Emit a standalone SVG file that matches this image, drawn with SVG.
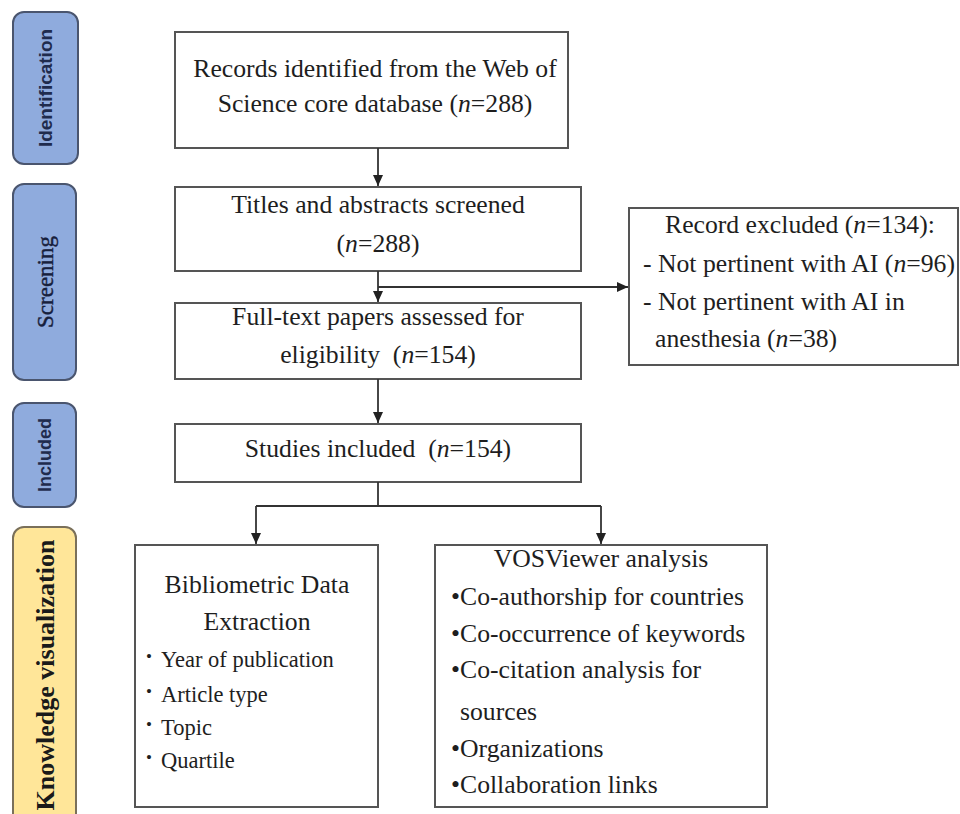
<svg xmlns="http://www.w3.org/2000/svg" width="960" height="814" viewBox="0 0 960 814">
  <defs>
    <marker id="arrow" markerUnits="userSpaceOnUse" markerWidth="12" markerHeight="12" viewBox="0 0 12 12" refX="11" refY="6" orient="auto">
      <path d="M0,1 L11,6 L0,11 Z" fill="#222"/>
    </marker>
    <style>
      .box { fill: #ffffff; stroke: #555555; stroke-width: 2; }
      .stage-blue { fill: #8fabdd; stroke: #4a556e; stroke-width: 2; }
      .stage-yellow { fill: #ffe699; stroke: #7a705a; stroke-width: 2; }
      .t { font-family: "Liberation Serif", "Times New Roman", serif; font-size: 25.7px; fill: #1e1e1e; }
      .ts { font-family: "Liberation Serif", "Times New Roman", serif; font-size: 22.5px; fill: #1e1e1e; }
      .bul { font-family: "Liberation Serif", "Times New Roman", serif; font-size: 17px; fill: #1e1e1e; }
      .c { text-anchor: middle; }
      .i { font-style: italic; }
      .lbl-sans { font-family: "Liberation Sans", Arial, sans-serif; font-weight: bold; fill: #1f2b4d; text-anchor: middle; }
      .lbl-serif { font-family: "Liberation Serif", "Times New Roman", serif; fill: #17203c; text-anchor: middle; }
      .conn { fill: none; stroke: #333333; stroke-width: 1.8; }
    </style>
  </defs>

  <rect width="960" height="814" fill="#ffffff"/>

  <!-- stage labels -->
  <g id="stage-identification">
    <rect class="stage-blue" x="13" y="12" width="65" height="152" rx="11"/>
    <text class="lbl-sans" font-size="19" transform="translate(45.5,88) rotate(-90)" dy="0.35em">Identification</text>
  </g>
  <g id="stage-screening">
    <rect class="stage-blue" x="13" y="184" width="63" height="196" rx="11"/>
    <text class="lbl-serif" font-size="23" stroke="#17203c" stroke-width="0.4" transform="translate(44.5,282) rotate(-90)" dy="0.35em">Screening</text>
  </g>
  <g id="stage-included">
    <rect class="stage-blue" x="13" y="403" width="63" height="104" rx="11"/>
    <text class="lbl-sans" font-size="18" transform="translate(44.5,455) rotate(-90)" dy="0.35em">Included</text>
  </g>
  <g id="stage-knowledge">
    <rect class="stage-yellow" x="13" y="527" width="63" height="300" rx="11"/>
    <text class="lbl-serif" font-size="26" font-weight="bold" style="fill:#1a1a1a" transform="translate(44.5,675) rotate(-90)" dy="0.35em">Knowledge visualization</text>
  </g>

  <!-- flow boxes -->
  <g id="records-identified">
    <rect class="box" x="175" y="32" width="393" height="116"/>
    <text class="t c" x="375" y="77">Records identified from the Web of</text>
    <text class="t c" x="375" y="112">Science core database (<tspan class="i">n</tspan>=288)</text>
  </g>
  <g id="titles-screened">
    <rect class="box" x="175" y="187" width="406" height="84"/>
    <text class="t c" x="378" y="213">Titles and abstracts screened</text>
    <text class="t c" x="378" y="252">(<tspan class="i">n</tspan>=288)</text>
  </g>
  <g id="full-text">
    <rect class="box" x="175" y="303" width="406" height="76"/>
    <text class="t c" x="378" y="325">Full-text papers assessed for</text>
    <text class="t c" x="378" y="363" xml:space="preserve">eligibility  (<tspan class="i">n</tspan>=154)</text>
  </g>
  <g id="excluded">
    <rect class="box" x="629" y="208" width="329" height="157"/>
    <text class="t" x="665" y="233">Record excluded (<tspan class="i">n</tspan>=134):</text>
    <text class="t" x="643" y="272">- Not pertinent with AI (<tspan class="i">n</tspan>=96)</text>
    <text class="t" x="643" y="310">- Not pertinent with AI in</text>
    <text class="t" x="655" y="347">anesthesia (<tspan class="i">n</tspan>=38)</text>
  </g>
  <g id="studies-included">
    <rect class="box" x="175" y="424" width="406" height="58"/>
    <text class="t c" x="378" y="457" xml:space="preserve">Studies included  (<tspan class="i">n</tspan>=154)</text>
  </g>
  <g id="bibliometric">
    <rect class="box" x="135" y="545" width="243" height="262"/>
    <text class="t c" x="257" y="593">Bibliometric Data</text>
    <text class="t c" x="257" y="630">Extraction</text>
    <text class="bul" x="146" y="662">•</text>
    <text class="ts" x="161" y="667">Year of publication</text>
    <text class="bul" x="146" y="697">•</text>
    <text class="ts" x="161" y="702">Article type</text>
    <text class="bul" x="146" y="730">•</text>
    <text class="ts" x="161" y="735">Topic</text>
    <text class="bul" x="146" y="763">•</text>
    <text class="ts" x="161" y="768">Quartile</text>
  </g>
  <g id="vosviewer">
    <rect class="box" x="435" y="545" width="332" height="262"/>
    <text class="t c" x="601" y="567">VOSViewer analysis</text>
    <text class="t" x="451" y="605">•Co-authorship for countries</text>
    <text class="t" x="451" y="642">•Co-occurrence of keywords</text>
    <text class="t" x="451" y="678">•Co-citation analysis for</text>
    <text class="t" x="460" y="720">sources</text>
    <text class="t" x="451" y="757">•Organizations</text>
    <text class="t" x="451" y="793">•Collaboration links</text>
  </g>

  <!-- connectors -->
  <g id="connectors">
    <path class="conn" d="M378,148 V186" marker-end="url(#arrow)"/>
    <path class="conn" d="M378,271 V302" marker-end="url(#arrow)"/>
    <path class="conn" d="M378,287 H628" marker-end="url(#arrow)"/>
    <path class="conn" d="M378,379 V423" marker-end="url(#arrow)"/>
    <path class="conn" d="M378,482 V506"/>
    <path class="conn" d="M256,506 H601"/>
    <path class="conn" d="M256,506 V544" marker-end="url(#arrow)"/>
    <path class="conn" d="M601,506 V544" marker-end="url(#arrow)"/>
  </g>
</svg>
